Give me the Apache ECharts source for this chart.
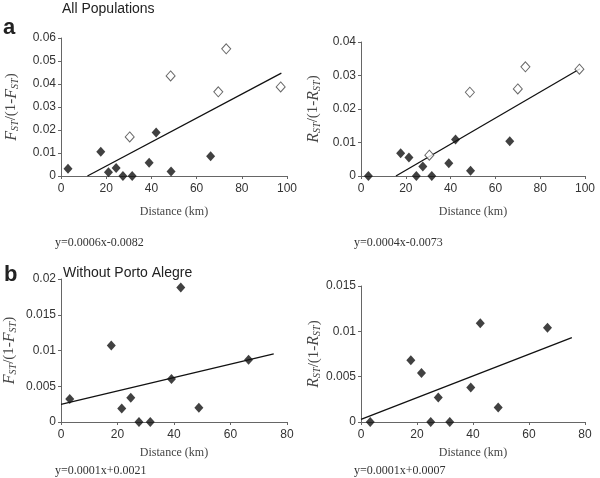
<!DOCTYPE html>
<html><head><meta charset="utf-8">
<script src="https://cdn.jsdelivr.net/npm/echarts@6/dist/echarts.min.js"></script>
<style>html,body{margin:0;padding:0;background:#fff}#c{width:600px;height:478px}</style>
</head><body><div id="c"></div>
<script>
// Panel a: all populations
const aFstDist = [3.1, 17.6, 21.0, 24.4, 27.4, 31.5, 39.0, 42.1, 48.7, 66.2];
const aFstVal = [0.0031, 0.0105, 0.0016, 0.0035, 0, 0, 0.0058, 0.0189, 0.002, 0.0086];
const aFstOpenDist = [30.4, 48.5, 69.6, 73.1, 97.2];
const aFstOpenVal = [0.017, 0.0435, 0.0366, 0.0553, 0.0387];
const aFstLineX = [11.7, 97.5];
const aFstLineY = [0, 0.0447];

const aRstDist = [3.3, 17.7, 21.4, 24.7, 27.6, 31.6, 39.2, 42.2, 48.9, 66.4];
const aRstVal = [0, 0.0068, 0.0055, 0, 0.0028, 0, 0.0038, 0.0109, 0.0016, 0.0104];
const aRstOpenDist = [30.5, 48.6, 70.0, 73.4, 97.5];
const aRstOpenVal = [0.0062, 0.025, 0.026, 0.0326, 0.0319];
const aRstLineX = [15.6, 97.8];
const aRstLineY = [0, 0.032];

// Panel b: without Porto Alegre
const bFstDist = [3.1, 17.8, 21.5, 24.7, 27.6, 31.6, 39.1, 42.4, 48.8, 66.4];
const bFstVal = [0.0032, 0.0107, 0.0019, 0.0034, 0, 0, 0.006, 0.0188, 0.002, 0.0087];
const bFstLineX = [0, 75.3];
const bFstLineY = [0.00247, 0.00953];

const bRstDist = [3.3, 17.8, 21.6, 24.9, 27.6, 31.7, 39.2, 42.6, 49.0, 66.6];
const bRstVal = [0, 0.0068, 0.0054, 0, 0.0027, 0, 0.0038, 0.0109, 0.0016, 0.0104];
const bRstLineX = [0, 75.3];
const bRstLineY = [0.0003, 0.0093];

const equations = ['y=0.0006x-0.0082', 'y=0.0004x-0.0073', 'y=0.0001x+0.0021', 'y=0.0001x+0.0007'];
const sectionTitles = ['All Populations', 'Without Porto Alegre'];
const sectionLetters = ['a', 'b'];

const zip = (xs, ys) => xs.map((x, i) => [x, ys[i]]);

const chart = echarts.init(document.getElementById('c'), null, {renderer: 'canvas'});

const grids = [
  {left: 61, top: 38, width: 226, height: 138},
  {left: 361, top: 42, width: 224, height: 134},
  {left: 61, top: 279, width: 226, height: 143},
  {left: 361, top: 286, width: 224, height: 136}
];
const xMax = [100, 100, 80, 80];
const yMax = [0.06, 0.04, 0.02, 0.015];
const yInt = [0.01, 0.01, 0.005, 0.005];
const yKind = ['F', 'R', 'F', 'R'];
const yGap = [41, 39, 43, 38];

const axisLine = {lineStyle: {color: '#666', width: 1}};
const tickLbl = {color: '#333', fontSize: 12, fontFamily: 'Liberation Sans, Arial, sans-serif'};

const xAxes = grids.map((g, i) => ({
  gridIndex: i, type: 'value', min: 0, max: xMax[i], interval: 20,
  axisLine: axisLine, axisTick: {show: true, length: 3, lineStyle: {color: '#666'}},
  splitLine: {show: false}, axisLabel: Object.assign({margin: 7}, tickLbl),
  name: 'Distance (km)', nameLocation: 'middle', nameGap: i < 2 ? 30 : 25,
  nameTextStyle: {color: '#444', fontSize: 12, fontFamily: 'Liberation Serif, Times New Roman, serif'}
}));

const yAxes = grids.map((g, i) => ({
  gridIndex: i, type: 'value', min: 0, max: yMax[i], interval: yInt[i],
  axisLine: Object.assign({show: true}, axisLine),
  axisTick: {show: true, length: 3, lineStyle: {color: '#666'}},
  splitLine: {show: false},
  axisLabel: Object.assign({margin: 5, formatter: v => v === 0 ? '0' : String(+v.toFixed(4))}, tickLbl),
  name: '{i|' + yKind[i] + '}{s|ST}{n|/(1-}{i|' + yKind[i] + '}{s|ST}{n|)}',
  nameLocation: 'middle', nameRotate: 90, nameGap: yGap[i],
  nameTextStyle: {
    color: '#444', fontFamily: 'Liberation Serif, Times New Roman, serif', fontSize: 15,
    rich: {
      i: {fontStyle: 'italic', fontSize: 16, color: '#444', fontFamily: 'Liberation Serif, serif'},
      s: {fontStyle: 'italic', fontSize: 10, color: '#444', verticalAlign: 'bottom', padding: [7, 0, 0, 0], fontFamily: 'Liberation Serif, serif'},
      n: {fontSize: 15, color: '#444', fontFamily: 'Liberation Serif, serif'}
    }
  }
}));

const filled = {symbol: 'diamond', symbolSize: [9, 10], itemStyle: {color: '#111'}};
const hollow = {symbol: 'diamond', symbolSize: [9, 10], itemStyle: {color: '#fff', borderColor: '#444', borderWidth: 1}};

function scatter(i, data, style) {
  return Object.assign({type: 'scatter', xAxisIndex: i, yAxisIndex: i, data: data, clip: false, z: 3}, style);
}
function fit(i, xs, ys) {
  return {type: 'line', xAxisIndex: i, yAxisIndex: i, data: zip(xs, ys), symbol: 'none',
    lineStyle: {color: '#111', width: 1.3}, z: 2, silent: true};
}

const series = [
  fit(0, aFstLineX, aFstLineY),
  scatter(0, zip(aFstDist, aFstVal), filled),
  scatter(0, zip(aFstOpenDist, aFstOpenVal), hollow),
  fit(1, aRstLineX, aRstLineY),
  scatter(1, zip(aRstDist, aRstVal), filled),
  scatter(1, zip(aRstOpenDist, aRstOpenVal), hollow),
  fit(2, bFstLineX, bFstLineY),
  scatter(2, zip(bFstDist, bFstVal), filled),
  fit(3, bRstLineX, bRstLineY),
  scatter(3, zip(bRstDist, bRstVal), filled)
];

const serif = 'Liberation Serif, Times New Roman, serif';
const sans = 'Liberation Sans, Arial, sans-serif';
const titles = [
  {text: sectionLetters[0], left: 3, top: 17, textStyle: {fontSize: 22, fontWeight: 'bold', color: '#222', fontFamily: sans}},
  {text: sectionTitles[0], left: 62, top: 2, textStyle: {fontSize: 14, fontWeight: 'normal', color: '#222', fontFamily: sans}},
  {text: sectionLetters[1], left: 4, top: 264, textStyle: {fontSize: 22, fontWeight: 'bold', color: '#222', fontFamily: sans}},
  {text: sectionTitles[1], left: 63, top: 266, textStyle: {fontSize: 14, fontWeight: 'normal', color: '#222', fontFamily: sans}},
  {text: equations[0], left: 55, top: 237, textStyle: {fontSize: 12, fontWeight: 'normal', color: '#333', fontFamily: serif}},
  {text: equations[1], left: 354, top: 237, textStyle: {fontSize: 12, fontWeight: 'normal', color: '#333', fontFamily: serif}},
  {text: equations[2], left: 55, top: 465, textStyle: {fontSize: 12, fontWeight: 'normal', color: '#333', fontFamily: serif}},
  {text: equations[3], left: 354, top: 465, textStyle: {fontSize: 12, fontWeight: 'normal', color: '#333', fontFamily: serif}}
].map(t => Object.assign({padding: 0}, t));

chart.setOption({
  animation: false,
  backgroundColor: '#fff',
  title: titles,
  grid: grids,
  xAxis: xAxes,
  yAxis: yAxes,
  series: series
});
</script></body></html>
